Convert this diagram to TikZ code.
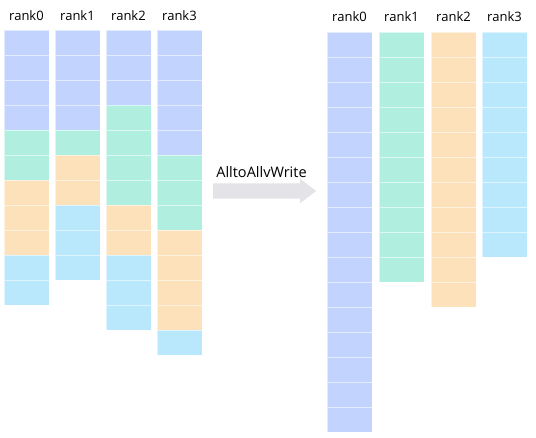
\documentclass[tikz,border=0pt]{standalone}
\usepackage{fontspec}
\setmainfont{Open Sans}
\usetikzlibrary{shapes, arrows, positioning}

\definecolor{cb}{HTML}{C2D4FE}
\definecolor{cg}{HTML}{B0EEE0}
\definecolor{co}{HTML}{FDE1BB}
\definecolor{cc}{HTML}{B9E8FD}
\definecolor{arrowgray}{HTML}{E3E3E8}

\tikzset{
  cell/.style={draw=white, draw opacity=0.55, line width=0.8pt, rectangle,
    minimum width=45pt, minimum height=25pt, inner sep=0pt, outer sep=0pt},
  lbl/.style={font=\fontsize{13}{15}\selectfont, anchor=base, inner sep=0pt}
}

\begin{document}
\begin{tikzpicture}[x=1pt, y=-1pt]
  \useasboundingbox (0,0) rectangle (536,438);

  % before: every rank holds blocks for all ranks
  \foreach \r/\x/\cells in {
      0/26.5/{cb,cb,cb,cb,cg,cg,co,co,co,cc,cc},
      1/77.5/{cb,cb,cb,cb,cg,co,co,cc,cc,cc},
      2/128.5/{cb,cb,cb,cg,cg,cg,cg,co,co,cc,cc,cc},
      3/179.5/{cb,cb,cb,cb,cb,cg,cg,cg,co,co,co,co,cc}} {
    \foreach \c [count=\i] in \cells {
      \node[cell, fill=\c] (L\r-\i) at (\x, 17.5+25*\i) {};
    }
    \node[lbl] (Lt\r) at (\x, 21) {rank\r};
  }

  % after: every rank holds only its own blocks
  \foreach \r/\x/\n/\c in {0/349.5/16/cb, 1/401.5/10/cg, 2/453.5/11/co, 3/504.5/9/cc} {
    \foreach \i in {1,...,\n} {
      \node[cell, fill=\c] (R\r-\i) at (\x, 19.5+25*\i) {};
    }
    \node[lbl] (Rt\r) at (\x, 22) {rank\r};
  }

  % the exchange
  \node[single arrow, fill=arrowgray, inner xsep=0pt, inner ysep=7.5pt,
    minimum height=103pt, single arrow head extend=4.5pt,
    single arrow tip angle=74, anchor=tail] (xchg) at (213,191) {};
  \node[lbl, anchor=center, font=\fontsize{14.5}{16}\selectfont] (xlbl) at (261.5,172) {AlltoAllvWrite};
\end{tikzpicture}
\end{document}
